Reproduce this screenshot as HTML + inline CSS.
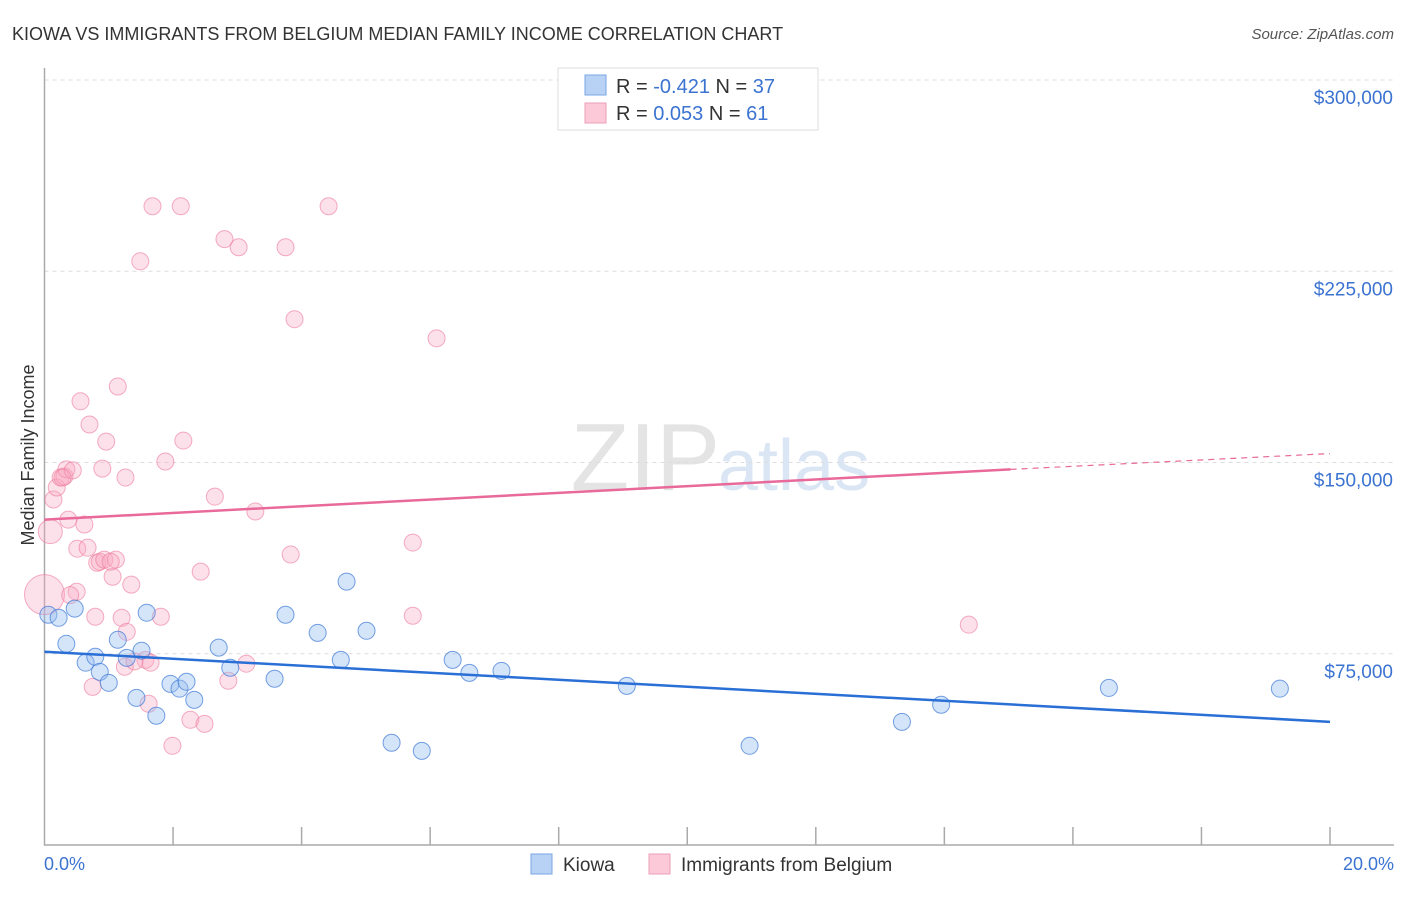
<!DOCTYPE html>
<html><head><meta charset="utf-8"><style>
body{margin:0;background:#fff;font-family:"Liberation Sans",sans-serif}
svg text{font-family:"Liberation Sans",sans-serif}
</style></head><body>
<svg id="chart" width="1406" height="892" xmlns="http://www.w3.org/2000/svg">
<text x="12" y="40" font-size="18" fill="#333">KIOWA VS IMMIGRANTS FROM BELGIUM MEDIAN FAMILY INCOME CORRELATION CHART</text>
<text x="1394" y="39" font-size="15" fill="#555" font-style="italic" text-anchor="end">Source: ZipAtlas.com</text>
<text x="720" y="490" font-size="96" fill="#e4e4e4" text-anchor="end" font-family="Liberation Serif">ZIP</text>
<text x="718" y="490" font-size="72" fill="#dbe6f5">atlas</text>
<g id="grid"></g>
<g id="axes"></g>
<g id="pts"></g>
<g id="lines"></g>
<text transform="translate(34,455) rotate(-90)" font-size="18" fill="#333" text-anchor="middle">Median Family Income</text>
<text x="44" y="870" font-size="18" fill="#3b73d1">0.0%</text>
<text x="1394" y="870" font-size="18" fill="#3b73d1" text-anchor="end">20.0%</text>
<g>
<rect x="558" y="68" width="260" height="62" fill="#fff" stroke="#ddd"/>
<rect x="585" y="75" width="21" height="20" fill="#b8d2f5" stroke="#7aa6e4"/>
<rect x="585" y="103" width="21" height="20" fill="#fbc9d8" stroke="#ee9fb8"/>
<text x="616" y="93" font-size="20" fill="#333">R = <tspan fill="#3b73d1">-0.421</tspan>   N = <tspan fill="#3b73d1">37</tspan></text>
<text x="616" y="120" font-size="20" fill="#333">R =  <tspan fill="#3b73d1">0.053</tspan>   N =  <tspan fill="#3b73d1">61</tspan></text>
</g>
<g>
<rect x="531" y="854" width="21" height="20" fill="#b8d2f5" stroke="#7aa6e4"/>
<text x="563" y="871" font-size="19" fill="#333">Kiowa</text>
<rect x="649" y="854" width="21" height="20" fill="#fbc9d8" stroke="#ee9fb8"/>
<text x="681" y="871" font-size="19" fill="#333">Immigrants from Belgium</text>
</g>
</svg>
<script>
const yTicks=[75000,150000,225000,300000];
const yTickLabels=["$75,000","$150,000","$225,000","$300,000"];
const kiowaX=[0.06,0.22,0.47,0.34,0.64,0.79,0.86,1.0,1.14,1.28,1.43,1.51,1.59,1.74,1.96,2.10,2.21,2.33,2.71,2.89,3.58,3.75,4.25,4.61,4.70,5.01,5.40,5.87,6.35,6.61,7.11,9.06,10.97,13.34,13.95,16.56,19.22];
const kiowaY=[90300,89100,92700,78900,71500,73800,67900,63600,80500,73400,57700,76200,91100,50700,63200,61300,64000,56900,77400,69500,65200,90300,83200,72600,103300,84000,40100,36900,72600,67500,68300,62400,38900,48300,55000,61600,61300];
const belgX=[0.0,0.09,0.14,0.19,0.25,0.31,0.34,0.37,0.44,0.28,0.50,0.51,0.56,0.62,0.67,0.70,0.75,0.79,0.82,0.86,0.90,0.93,0.96,1.06,1.11,1.14,1.20,1.25,1.26,1.28,1.35,1.49,1.57,1.62,1.65,1.68,1.81,1.88,1.99,2.12,2.16,2.27,2.43,2.49,2.65,2.80,2.86,3.02,3.14,3.28,3.75,3.83,3.89,4.42,5.73,5.73,6.10,14.38,1.03,1.40,0.40];
const belgY=[98200,122900,135500,140200,144100,144500,147300,127600,146900,144100,99300,116200,174000,125700,116600,164900,62000,89500,110700,111100,147600,111900,158200,105200,111900,179800,89100,69900,144100,83600,102100,228900,72600,55400,71500,250500,89500,150400,38900,250500,158600,49100,107200,47500,136600,237600,64400,234400,71100,130800,234400,113900,206200,250500,118600,89900,198700,86400,111100,72000,98000];
const belgSize=[20,12];
const kiowaTrend=[75800,48300];
const belgTrend=[127600,147300,153500];
const belgTrendSolidEnd=15.03;
const NS="http://www.w3.org/2000/svg";
const X0=44.5,X1=1330,Y0=845,YTOP=80;
const sx=p=>X0+(X1-X0)*p/20;
const sy=v=>Y0-(Y0-YTOP)*v/300000;
function mk(tag,attrs,parent){const e=document.createElementNS(NS,tag);for(const k in attrs)e.setAttribute(k,attrs[k]);parent.appendChild(e);return e;}
const grid=document.getElementById('grid'),axes=document.getElementById('axes'),pts=document.getElementById('pts'),lines=document.getElementById('lines');
yTicks.forEach((v,i)=>{
 const l=mk('line',{x1:X0,x2:1394,y1:sy(v),y2:sy(v),stroke:'#ddd','stroke-dasharray':'4,4'},grid);
 
 
 const t=mk('text',{x:1393,y:sy(v)+24,'font-size':19,fill:'#3b73d1','text-anchor':'end'},grid);
 t.textContent=yTickLabels[i];
 
 
});
const ax=mk('path',{d:`M${X0},68V${Y0}H1394`,stroke:'#aaa',fill:'none','stroke-width':1.5},axes);


for(let p=2;p<=20;p+=2){
 const t=mk('line',{x1:sx(p),x2:sx(p),y1:Y0-18,y2:Y0,stroke:'#aaa','stroke-width':1.5},axes);
 
 
}
belgX.forEach((x,i)=>{
 const c=mk('circle',{cx:sx(x),cy:sy(belgY[i]),r:belgSize[i]||8.5,fill:'rgba(248,170,195,0.35)',stroke:'rgba(236,120,155,0.6)','stroke-width':1},pts);
 
 
});
kiowaX.forEach((x,i)=>{
 const c=mk('circle',{cx:sx(x),cy:sy(kiowaY[i]),r:8.5,fill:'rgba(150,190,240,0.4)',stroke:'rgba(60,120,215,0.7)','stroke-width':1},pts);
 
 
});
const kl=mk('line',{x1:sx(0),y1:sy(kiowaTrend[0]),x2:sx(20),y2:sy(kiowaTrend[1]),stroke:'#2a6fd6','stroke-width':2.5},lines);


const bl=mk('line',{x1:sx(0),y1:sy(belgTrend[0]),x2:sx(belgTrendSolidEnd),y2:sy(belgTrend[1]),stroke:'#e8699a','stroke-width':2.5},lines);


const bd=mk('line',{x1:sx(belgTrendSolidEnd),y1:sy(belgTrend[1]),x2:sx(20),y2:sy(belgTrend[2]),stroke:'#e8699a','stroke-width':1.2,'stroke-dasharray':'6,5'},lines);


</script>
</body></html>
